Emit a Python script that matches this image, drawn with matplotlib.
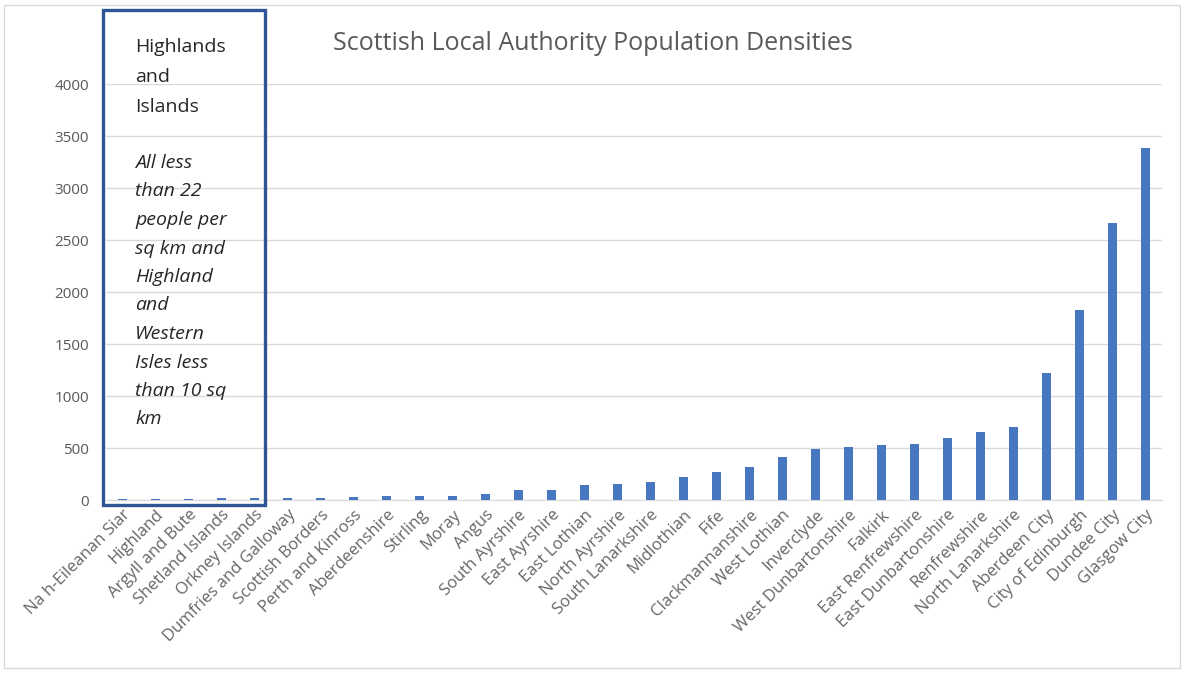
import numpy as np
import matplotlib.pyplot as plt
from matplotlib.patches import Rectangle

# council areas, sorted by population density (people per sq km)
areas = ["Na h-Eileanan Siar", "Highland", "Argyll and Bute", "Shetland Islands",
         "Orkney Islands", "Dumfries and Galloway", "Scottish Borders",
         "Perth and Kinross", "Aberdeenshire", "Stirling", "Moray", "Angus",
         "South Ayrshire", "East Ayrshire", "East Lothian", "North Ayrshire",
         "South Lanarkshire", "Midlothian", "Fife", "Clackmannanshire",
         "West Lothian", "Inverclyde", "West Dunbartonshire", "Falkirk",
         "East Renfrewshire", "East Dunbartonshire", "Renfrewshire",
         "North Lanarkshire", "Aberdeen City", "City of Edinburgh",
         "Dundee City", "Glasgow City"]
density = [9, 9, 13, 16, 21, 23, 24, 28, 41, 43, 42, 53,
           95, 97, 145, 150, 172, 225, 272, 318,
           410, 490, 505, 530, 535, 600, 654, 700,
           1221, 1827, 2663, 3385]

y_ticks = [0, 500, 1000, 1500, 2000, 2500, 3000, 3500, 4000]

header = "Highlands\nand\nIslands"
note = "All less\nthan 22\npeople per\nsq km and\nHighland\nand\nWestern\nIsles less\nthan 10 sq\nkm"

plt.rcParams['font.family'] = ['Open Sans', 'DejaVu Sans']

W, H = 1186, 673
fig = plt.figure(figsize=(W / 100, H / 100), dpi=100)
fig.patch.set_facecolor('white')

# outer chart border
fig.patches.append(Rectangle((4 / W, 1 - 668 / H), 1176 / W, 663 / H,
                             transform=fig.transFigure, fill=False,
                             edgecolor='#d9d9d9', lw=1))

ax = fig.add_axes([106 / W, 1 - 500 / H, (1162 - 106) / W, (500 - 84) / H])
x = np.arange(len(areas))
ax.bar(x, density, width=0.27, color='#4677C0', zorder=3)

ax.set_xlim(-0.5, len(areas) - 0.5)
ax.set_ylim(0, 4000)
ax.set_yticks(y_ticks)
ax.set_yticklabels([str(v) for v in y_ticks], color='#595959', fontsize=11)
ax.yaxis.grid(True, color='#d9d9d9', lw=1, zorder=0)
ax.tick_params(axis='y', length=0, pad=12)
ax.tick_params(axis='x', length=0, pad=5)
for s in ['top', 'right', 'left']:
    ax.spines[s].set_visible(False)
ax.spines['bottom'].set_color('#d9d9d9')

ax.set_xticks(x)
ax.set_xticklabels(areas, rotation=45, ha='right', rotation_mode='anchor',
                   color='#666666', fontsize=12)

fig.text(593 / W, 1 - 43 / H, "Scottish Local Authority Population Densities",
         ha='center', va='center', color='#595959', fontsize=18)

# highlands and islands box
box = Rectangle((103 / W, 1 - 505 / H), (265 - 103) / W, (505 - 10) / H,
                transform=fig.transFigure, fill=False, edgecolor='#2F5597',
                lw=2.4, zorder=5)
fig.patches.append(box)
fig.text(135 / W, 1 - 38 / H, header, ha='left', va='top', fontsize=14,
         color='#262626', linespacing=1.84)
fig.text(135 / W, 1 - 154 / H, note, ha='left', va='top', fontsize=14,
         style='italic', color='#262626', linespacing=1.75)

fig.savefig('out.png', dpi=100)
